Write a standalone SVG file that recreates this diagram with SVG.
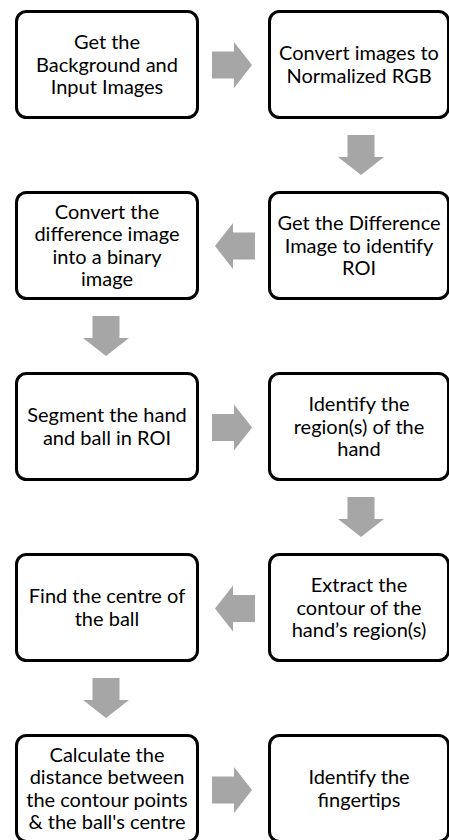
<svg xmlns="http://www.w3.org/2000/svg" xmlns:xlink="http://www.w3.org/1999/xlink" width="449" height="840" viewBox="0 0 449 840">
  <style>
    .box { fill: #ffffff; stroke: #000000; stroke-width: 3; }
    .lbl { font-family: Lato, "Open Sans", sans-serif; font-size: 20px; fill: #000000; text-anchor: middle; }
    .arr { fill: #a6a6a6; }
  </style>
  <defs>
    <polygon id="arrow" points="0,-13.5 22,-13.5 22,-23 40,0 22,23 22,13.5 0,13.5"/>
  </defs>
  <rect width="449" height="840" fill="#ffffff"/>

  <g id="connectors">
    <use xlink:href="#arrow" class="arr" transform="translate(212,65)"/>
    <use xlink:href="#arrow" class="arr" transform="translate(361,135) rotate(90)"/>
    <use xlink:href="#arrow" class="arr" transform="translate(255,246) rotate(180)"/>
    <use xlink:href="#arrow" class="arr" transform="translate(106,316) rotate(90)"/>
    <use xlink:href="#arrow" class="arr" transform="translate(212,427.5)"/>
    <use xlink:href="#arrow" class="arr" transform="translate(361,497) rotate(90)"/>
    <use xlink:href="#arrow" class="arr" transform="translate(255,608.5) rotate(180)"/>
    <use xlink:href="#arrow" class="arr" transform="translate(106,678) rotate(90)"/>
    <use xlink:href="#arrow" class="arr" transform="translate(212,790)"/>
  </g>

  <g id="n1">
    <rect class="box" x="16.5" y="11.5" width="181" height="106" rx="10"/>
    <text class="lbl" x="107" y="49">Get the</text>
    <text class="lbl" x="107" y="71.5">Background and</text>
    <text class="lbl" x="107" y="94">Input Images</text>
  </g>
  <g id="n2">
    <rect class="box" x="269.5" y="11.5" width="179" height="106" rx="10"/>
    <text class="lbl" x="359" y="60.3">Convert images to</text>
    <text class="lbl" x="359" y="82.8">Normalized RGB</text>
  </g>
  <g id="n3">
    <rect class="box" x="269.5" y="192.5" width="179" height="106" rx="10"/>
    <text class="lbl" x="359" y="230">Get the Difference</text>
    <text class="lbl" x="359" y="252.5">Image to identify</text>
    <text class="lbl" x="359" y="275">ROI</text>
  </g>
  <g id="n4">
    <rect class="box" x="16.5" y="192.5" width="181" height="106" rx="10"/>
    <text class="lbl" x="107" y="218.75">Convert the</text>
    <text class="lbl" x="107" y="241.25">difference image</text>
    <text class="lbl" x="107" y="263.75">into a binary</text>
    <text class="lbl" x="107" y="286.25">image</text>
  </g>
  <g id="n5">
    <rect class="box" x="16.5" y="373.5" width="181" height="106" rx="10"/>
    <text class="lbl" x="107" y="422.3">Segment the hand</text>
    <text class="lbl" x="107" y="444.8">and ball in ROI</text>
  </g>
  <g id="n6">
    <rect class="box" x="269.5" y="373.5" width="179" height="106" rx="10"/>
    <text class="lbl" x="359" y="411">Identify the</text>
    <text class="lbl" x="359" y="433.5">region(s) of the</text>
    <text class="lbl" x="359" y="456">hand</text>
  </g>
  <g id="n7">
    <rect class="box" x="269.5" y="554.5" width="179" height="106" rx="10"/>
    <text class="lbl" x="359" y="592">Extract the</text>
    <text class="lbl" x="359" y="614.5">contour of the</text>
    <text class="lbl" x="359" y="637">hand’s region(s)</text>
  </g>
  <g id="n8">
    <rect class="box" x="16.5" y="554.5" width="181" height="106" rx="10"/>
    <text class="lbl" x="107" y="603.3">Find the centre of</text>
    <text class="lbl" x="107" y="625.8">the ball</text>
  </g>
  <g id="n9">
    <rect class="box" x="16.5" y="735.5" width="181" height="106" rx="10"/>
    <text class="lbl" x="107" y="761.75">Calculate the</text>
    <text class="lbl" x="107" y="784.25">distance between</text>
    <text class="lbl" x="107" y="806.75">the contour points</text>
    <text class="lbl" x="107" y="829.25">&amp; the ball's centre</text>
  </g>
  <g id="n10">
    <rect class="box" x="269.5" y="735.5" width="179" height="106" rx="10"/>
    <text class="lbl" x="359" y="784.3">Identify the</text>
    <text class="lbl" x="359" y="806.8">fingertips</text>
  </g>
</svg>
